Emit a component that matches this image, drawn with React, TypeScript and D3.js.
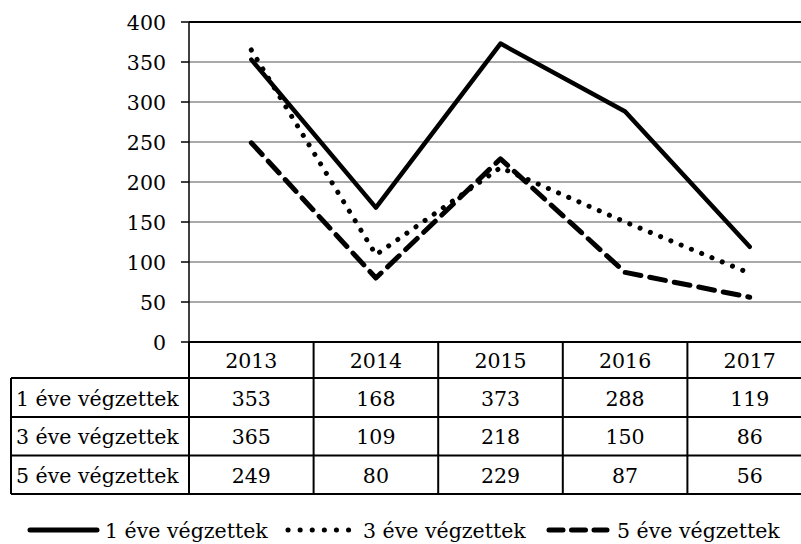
import { useEffect, useRef } from 'react';
import * as d3 from 'd3';

// chart data
const years = ['2013', '2014', '2015', '2016', '2017'];
const seriesNames = ['1 éve végzettek', '3 éve végzettek', '5 éve végzettek'];
const oneYear = [353, 168, 373, 288, 119];
const threeYear = [365, 109, 218, 150, 86];
const fiveYear = [249, 80, 229, 87, 56];
const yTicks = [0, 50, 100, 150, 200, 250, 300, 350, 400];

const W = 801;
const H = 544;
const FONT = "'DejaVu Serif', serif";
const FS = 20.5;

export default function App() {
  const svgRef = useRef<SVGSVGElement>(null);

  useEffect(() => {
    if (!svgRef.current) return;
    const svg = d3.select(svgRef.current);
    svg.selectAll('*').remove();

    const left = 189;
    const colW = 124.6;
    const top = 22;
    const bottom = 342;

    const x = d3
      .scaleBand<string>()
      .domain(years)
      .range([left, left + colW * years.length]);
    const y = d3.scaleLinear().domain([0, 400]).range([bottom, top]);

    const txt = (sel: d3.Selection<SVGTextElement, unknown, null, undefined>) =>
      sel.style('font-family', FONT).style('font-size', `${FS}px`).attr('fill', '#000');

    // gridlines
    yTicks.slice(1).forEach((t) => {
      svg
        .append('line')
        .attr('x1', left)
        .attr('x2', W)
        .attr('y1', y(t))
        .attr('y2', y(t))
        .attr('stroke', t === 400 ? '#000' : '#8c8c8c')
        .attr('stroke-width', t === 400 ? 2 : 1.5);
    });

    // y axis + ticks
    svg
      .append('line')
      .attr('x1', left)
      .attr('x2', left)
      .attr('y1', top)
      .attr('y2', 378)
      .attr('stroke', '#000')
      .attr('stroke-width', 1.5);

    yTicks.forEach((t) => {
      svg
        .append('line')
        .attr('x1', left - 8)
        .attr('x2', left)
        .attr('y1', y(t))
        .attr('y2', y(t))
        .attr('stroke', '#000')
        .attr('stroke-width', 1.5);
      svg
        .append('text')
        .attr('x', 166)
        .attr('y', y(t) + 8)
        .attr('text-anchor', 'end')
        .call(txt)
        .text(`${t}`);
    });

    // series lines
    const allSeries = [oneYear, threeYear, fiveYear];
    const dashes = [null, '0.1,11', '16,9'];
    const widths = [4.5, 5, 5];
    const line = d3
      .line<number>()
      .x((_, i) => (x(years[i]) ?? 0) + x.bandwidth() / 2)
      .y((d) => y(d));

    allSeries.forEach((vals, i) => {
      svg
        .append('path')
        .datum(vals)
        .attr('d', line)
        .attr('fill', 'none')
        .attr('stroke', '#000')
        .attr('stroke-width', widths[i])
        .attr('stroke-linecap', 'round')
        .attr('stroke-linejoin', 'round')
        .attr('stroke-dasharray', dashes[i]);
    });

    // data table
    const rowEdges = [342, 378, 417, 455.5, 494];
    const tableLeft = 11;
    const g = svg.append('g');

    rowEdges.forEach((ry, i) => {
      g.append('line')
        .attr('x1', i === 0 ? left : tableLeft)
        .attr('x2', W)
        .attr('y1', ry)
        .attr('y2', ry)
        .attr('stroke', '#000')
        .attr('stroke-width', 2);
    });

    g.append('line')
      .attr('x1', tableLeft)
      .attr('x2', tableLeft)
      .attr('y1', rowEdges[1])
      .attr('y2', rowEdges[4])
      .attr('stroke', '#000')
      .attr('stroke-width', 2);
    const colEdges = [left, ...years.map((yr) => (x(yr) ?? 0) + x.bandwidth())];
    colEdges.forEach((cx) => {
      g.append('line')
        .attr('x1', cx)
        .attr('x2', cx)
        .attr('y1', rowEdges[0])
        .attr('y2', rowEdges[4])
        .attr('stroke', '#000')
        .attr('stroke-width', 2);
    });

    // header
    years.forEach((yr) => {
      g.append('text')
        .attr('x', (x(yr) ?? 0) + x.bandwidth() / 2)
        .attr('y', (rowEdges[0] + rowEdges[1]) / 2 + 8)
        .attr('text-anchor', 'middle')
        .call(txt)
        .text(yr);
    });

    allSeries.forEach((vals, r) => {
      const cy = (rowEdges[r + 1] + rowEdges[r + 2]) / 2 + 8;
      g.append('text').attr('x', 16).attr('y', cy).call(txt).text(seriesNames[r]);
      vals.forEach((v, i) => {
        g.append('text')
          .attr('x', (x(years[i]) ?? 0) + x.bandwidth() / 2)
          .attr('y', cy)
          .attr('text-anchor', 'middle')
          .call(txt)
          .text(`${v}`);
      });
    });

    // legend
    const legendLine = [
      [30, 97],
      [288, 349],
      [549, 607],
    ];
    const legendText = [105, 363, 617];
    const legendY = 530;
    seriesNames.forEach((name, i) => {
      svg
        .append('line')
        .attr('x1', legendLine[i][0])
        .attr('x2', legendLine[i][1])
        .attr('y1', legendY)
        .attr('y2', legendY)
        .attr('stroke', '#000')
        .attr('stroke-width', 5)
        .attr('stroke-linecap', 'round')
        .attr('stroke-dasharray', i === 1 ? '0.1,12' : i === 2 ? '14,8.5' : null);
      svg
        .append('text')
        .attr('x', legendText[i])
        .attr('y', legendY + 8)
        .call(txt)
        .text(name);
    });
  }, []);

  return (
    <svg
      ref={svgRef}
      width={W}
      height={H}
      style={{ position: 'absolute', left: 0, top: 0, background: '#fff' }}
    />
  );
}
